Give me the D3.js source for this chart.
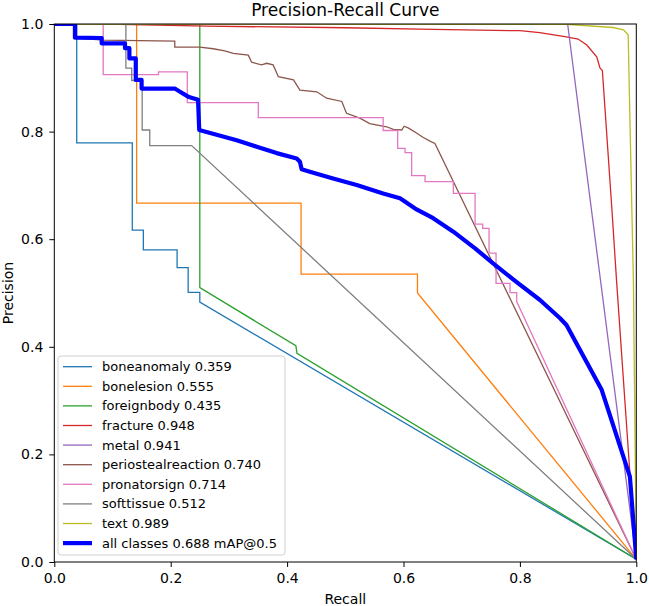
<!DOCTYPE html>
<html>
<head>
<meta charset="utf-8">
<script src="https://cdn.jsdelivr.net/npm/d3@7"></script>
<style>
  body { margin: 0; background: #fff; }
  svg text { font-family: "DejaVu Sans", sans-serif; fill: #000; }
</style>
</head>
<body>
<script>
// PR curve, one array of [recall, precision] per class

const classNames = ['boneanomaly', 'bonelesion', 'foreignbody', 'fracture', 'metal',
  'periostealreaction', 'pronatorsign', 'softtissue', 'text']
const apValues = [0.359, 0.555, 0.435, 0.948, 0.941, 0.740, 0.714, 0.512, 0.989]
const mapAll = 0.688
const classColors = ['#1f77b4', '#ff7f0e', '#2ca02c', '#d62728', '#9467bd', '#8c564b', '#e377c2', '#7f7f7f', '#bcbd22']
const xTicks = [0, 0.2, 0.4, 0.6, 0.8, 1.0]
const yTicks = [0, 0.2, 0.4, 0.6, 0.8, 1.0]

const boneanomaly = [[0, 1], [0.0385, 1], [0.0385, 0.779], [0.134, 0.779], [0.134, 0.617], [0.153, 0.617],
  [0.153, 0.580], [0.211, 0.580], [0.211, 0.547], [0.230, 0.547], [0.230, 0.501], [0.250, 0.501],
  [0.250, 0.483], [1, 0.005]]
const bonelesion = [[0, 1], [0.1415, 1], [0.1415, 0.667], [0.424, 0.667], [0.424, 0.535], [0.624, 0.535],
  [0.624, 0.50], [1, 0.005]]
const foreignbody = [[0, 1], [0.25, 1], [0.25, 0.51], [0.415, 0.402], [0.417, 0.388], [1, 0.005]]
const fracture = [[0, 1], [0.09, 1], [0.262, 0.996], [0.5, 0.993], [0.651, 0.990], [0.80, 0.9875],
  [0.834, 0.984], [0.88, 0.976], [0.90, 0.972], [0.915, 0.961], [0.932, 0.939], [0.9377, 0.918],
  [0.9416, 0.914], [0.943, 0.893], [0.958, 0.657], [0.966, 0.524], [0.989, 0.165], [1, 0.005]]
const metal = [[0, 1], [0.882, 1], [1, 0.005]]
const periostealreaction = [[0, 1], [0.033, 1], [0.033, 0.974], [0.084, 0.970], [0.207, 0.968], [0.207, 0.957],
  [0.25, 0.957], [0.273, 0.954], [0.293, 0.950], [0.3076, 0.9455], [0.3333, 0.942], [0.339, 0.929],
  [0.356, 0.924], [0.365, 0.927], [0.376, 0.924], [0.385, 0.902], [0.411, 0.896], [0.422, 0.877],
  [0.451, 0.874], [0.468, 0.862], [0.494, 0.856], [0.502, 0.834], [0.525, 0.825], [0.542, 0.815],
  [0.571, 0.809], [0.5825, 0.804], [0.597, 0.803], [0.601, 0.810], [0.608, 0.807], [0.623, 0.797],
  [0.634, 0.789], [0.648, 0.781], [0.654, 0.778], [1, 0.005]]
const pronatorsign = [[0, 1], [0.084, 1], [0.084, 0.906], [0.179, 0.906], [0.179, 0.911], [0.2285, 0.911],
  [0.2285, 0.854], [0.3505, 0.854], [0.3505, 0.826], [0.565, 0.826], [0.565, 0.802], [0.590, 0.802],
  [0.590, 0.769], [0.6026, 0.769], [0.6026, 0.761], [0.614, 0.761], [0.614, 0.718], [0.637, 0.718],
  [0.637, 0.707], [0.6856, 0.707], [0.6856, 0.685], [0.723, 0.685], [0.723, 0.628], [0.736, 0.628],
  [0.736, 0.620], [0.747, 0.620], [0.747, 0.574], [0.759, 0.574], [0.759, 0.518], [0.783, 0.518],
  [0.783, 0.5006], [0.7945, 0.5006], [0.7945, 0.484], [1, 0.005]]
const softtissue = [[0, 1], [0.123, 1], [0.123, 0.918], [0.133, 0.918], [0.133, 0.895], [0.151, 0.895],
  [0.151, 0.803], [0.164, 0.803], [0.164, 0.774], [0.236, 0.774], [1, 0.005]]
const textCls = [[0, 1], [0.88, 0.9995], [0.96, 0.9935], [0.978, 0.989], [0.986, 0.98], [0.992, 0.673],
  [0.995, 0.524], [1, 0.005]]
const allClasses = [[0, 1], [0.0356, 1], [0.0356, 0.9746], [0.0814, 0.974], [0.0814, 0.964], [0.1215, 0.964],
  [0.1215, 0.955], [0.129, 0.955], [0.129, 0.936], [0.140, 0.936], [0.140, 0.896], [0.150, 0.896],
  [0.150, 0.880], [0.207, 0.880], [0.216, 0.874], [0.230, 0.865], [0.247, 0.859], [0.249, 0.803],
  [0.3134, 0.784], [0.3478, 0.772], [0.382, 0.760], [0.4165, 0.750], [0.422, 0.744], [0.425, 0.730],
  [0.439, 0.7255], [0.479, 0.713], [0.5196, 0.7007], [0.565, 0.685], [0.594, 0.676], [0.620, 0.657],
  [0.651, 0.639], [0.6856, 0.614], [0.723, 0.583], [0.754, 0.555], [0.79, 0.524], [0.8345, 0.487],
  [0.869, 0.453], [0.880, 0.4405], [0.9405, 0.320], [0.989, 0.1586], [1, 0.005]]

const classCurves = [boneanomaly, bonelesion, foreignbody, fracture, metal,
  periostealreaction, pronatorsign, softtissue, textCls]

let width = 649
let height = 606
let margin = { top: 24, right: 12.7, bottom: 44, left: 54.3 }
let innerW = width - margin.left - margin.right
let innerH = height - margin.top - margin.bottom

let svg = d3.select('body').append('svg')
  .attr('width', width)
  .attr('height', height)

let xScale = d3.scaleLinear().domain([0, 1]).range([0, innerW])
let yScale = d3.scaleLinear().domain([0, 1]).range([innerH, 0])

let g = svg.append('g').attr('transform', 'translate(' + margin.left + ',' + margin.top + ')')

g.append('clipPath').attr('id', 'plotclip')
  .append('rect').attr('width', innerW).attr('height', innerH)

let line = d3.line()
  .x(d => xScale(d[0]))
  .y(d => yScale(d[1]))

let curves = g.append('g').attr('clip-path', 'url(#plotclip)')
classCurves.forEach((c, i) => {
  curves.append('path')
    .attr('d', line(c))
    .attr('fill', 'none')
    .attr('stroke', classColors[i])
    .attr('stroke-width', 1.3)
})
curves.append('path')
  .attr('d', line(allClasses))
  .attr('fill', 'none')
  .attr('stroke', 'blue')
  .attr('stroke-width', 4.2)
  .attr('stroke-linejoin', 'round')

// axes
let xAxis = d3.axisBottom(xScale).tickValues(xTicks).tickFormat(d3.format('.1f')).tickSize(5).tickPadding(6)
let yAxis = d3.axisLeft(yScale).tickValues(yTicks).tickFormat(d3.format('.1f')).tickSize(5).tickPadding(6)

let gx = g.append('g').attr('transform', 'translate(0,' + innerH + ')').call(xAxis)
let gy = g.append('g').call(yAxis)
;[gx, gy].forEach(a => {
  a.select('.domain').remove()
  a.selectAll('text').style('font-size', '14px').style('font-family', '"DejaVu Sans", sans-serif')
  a.selectAll('line').attr('stroke', '#000').attr('stroke-width', 1)
})

g.append('rect')
  .attr('width', innerW).attr('height', innerH)
  .attr('fill', 'none').attr('stroke', '#000').attr('stroke-width', 1)

// title and labels
svg.append('text')
  .attr('x', margin.left + innerW / 2).attr('y', 16)
  .attr('text-anchor', 'middle').style('font-size', '17px')
  .text('Precision-Recall Curve')
svg.append('text')
  .attr('x', margin.left + innerW / 2).attr('y', 604)
  .attr('text-anchor', 'middle').style('font-size', '14px')
  .text('Recall')
svg.append('text')
  .attr('transform', 'translate(13,' + (margin.top + innerH / 2) + ') rotate(-90)')
  .attr('text-anchor', 'middle').style('font-size', '14px')
  .text('Precision')

// legend
let legendLabels = classNames.map((n, i) => n + ' ' + apValues[i].toFixed(3))
legendLabels.push('all classes ' + mapAll.toFixed(3) + ' mAP@0.5')
let legendColors = classColors.concat(['blue'])

let lg = svg.append('g').attr('transform', 'translate(58,356)')
lg.append('rect')
  .attr('width', 227).attr('height', 199)
  .attr('rx', 3).attr('ry', 3)
  .attr('fill', 'rgba(255,255,255,0.8)')
  .attr('stroke', '#d0d0d0').attr('stroke-width', 1)

legendLabels.forEach((t, i) => {
  let yy = 10.7 + i * 19.6
  lg.append('line')
    .attr('x1', 5).attr('x2', 34).attr('y1', yy).attr('y2', yy)
    .attr('stroke', legendColors[i])
    .attr('stroke-width', i === 9 ? 4.2 : 1.3)
  lg.append('text')
    .attr('x', 44).attr('y', yy)
    .attr('dy', '0.35em')
    .style('font-size', '13px')
    .text(t)
})
</script>
</body>
</html>
